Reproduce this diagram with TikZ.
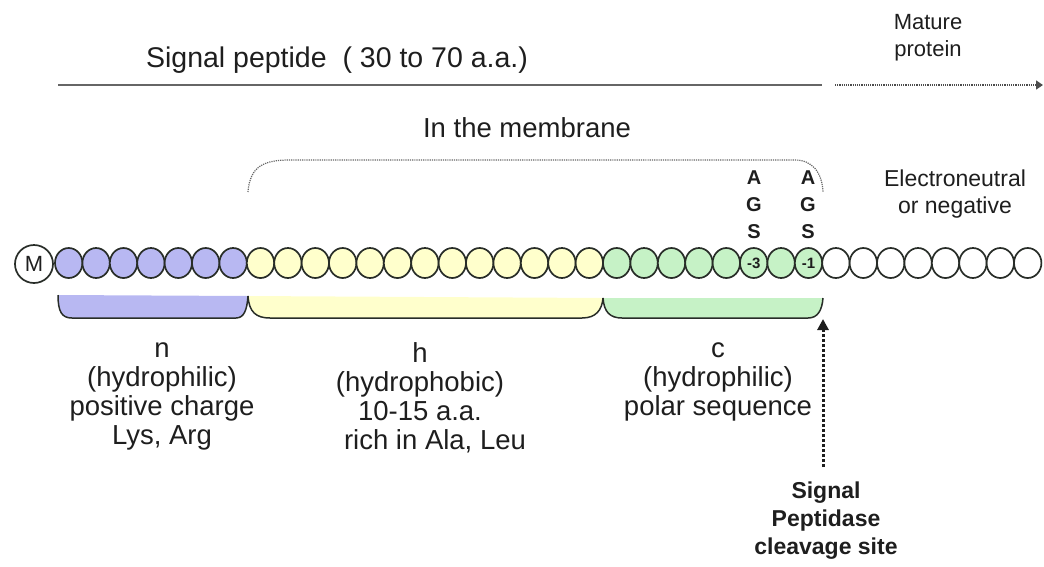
\documentclass[tikz,border=0pt]{standalone}
\usepackage{fontspec}
\setmainfont{Liberation Sans}
\usetikzlibrary{arrows.meta,shapes.geometric}
\definecolor{nblue}{RGB}{184,184,242}
\definecolor{hyel}{RGB}{255,255,204}
\definecolor{cgrn}{RGB}{198,242,198}
\definecolor{edge}{RGB}{40,45,40}
\definecolor{ink}{RGB}{30,30,30}
\begin{document}
\begin{tikzpicture}[x=1pt,y=-1pt,
  res/.style={ellipse, draw=edge, line width=1.7pt, inner sep=0pt,
    minimum width=27.4pt, minimum height=30pt},
  lbl/.style={font=\fontsize{27.5}{29}\selectfont, align=center, text=ink, inner sep=0pt},
  small/.style={font=\fontsize{22}{27}\selectfont, align=center, text=ink, inner sep=0pt},
  ags/.style={font=\bfseries\fontsize{20}{27}\selectfont, align=center, text=ink, inner sep=0pt},
  num/.style={font=\bfseries\fontsize{15}{15}\selectfont, text=ink, inner sep=0pt},
  brk/.style={draw=edge, line width=1.5pt},
  topline/.style={draw=black!60, line width=2.2pt},
  dotline/.style={draw=black!70, line width=1.6pt, dash pattern=on 1.2pt off 1pt},
  memb/.style={draw=black!60, line width=1.2pt, dash pattern=on 1.2pt off 1pt},
  cleave/.style={draw=ink, line width=3pt, dash pattern=on 3pt off 2pt},
]
\useasboundingbox (0,0) rectangle (1044,566);
% top
\coordinate (sp0) at (58,85);
\coordinate (sp1) at (822,85);
\coordinate (mp0) at (835,85);
\coordinate (mp1) at (1043,85);
\draw[topline] (sp0) -- (sp1);
\draw[dotline, -{Triangle[length=7pt,width=9pt]}] (mp0) -- (mp1);
\node[lbl, font=\fontsize{28.5}{30}\selectfont, anchor=base] (sig) at (337,67) {Signal peptide\ \ ( 30 to 70 a.a.)};
\node[small] (mat) at (928,38) {Mature\\protein};
% membrane
\node[lbl] (inm) at (527,128) {In the membrane};
\coordinate (m0) at (248,192);
\coordinate (m1) at (823,192);
\draw[memb] (m0) .. controls (250,166) and (264,160) .. (290,160) -- (795,160) .. controls (812,160) and (822,172) .. (m1);
% residues
\node[draw=edge, line width=1.7pt, circle, minimum size=38pt, inner sep=0pt,
  font=\fontsize{22}{22}\selectfont, text=ink] (M) at (34,264) {M};
\foreach \i in {0,...,35} {
  \pgfmathsetmacro\cx{55+(\i+0.5)*27.4}
  \ifnum\i<7 \def\fc{nblue}\else\ifnum\i<20 \def\fc{hyel}\else\ifnum\i<28 \def\fc{cgrn}\else\def\fc{white}\fi\fi\fi
  \node[res, fill=\fc] (r\i) at (\cx,263) {};
}
\node[num] (m3) at (r25) {-3};
\node[num] (m1l) at (r27) {-1};
\node[ags] (ags3) at (754,205) {A\\G\\S};
\node[ags] (ags1) at (808,205) {A\\G\\S};
\node[small, font=\fontsize{23}{27}\selectfont] (elec) at (955,194) {Electroneutral\\or negative};
% brackets
\fill[nblue] (58,295) .. controls (58,312) and (62,318) .. (72,318) -- (236,318) .. controls (244,318) and (247,310) .. (248,296) -- cycle;
\draw[brk] (58,295) .. controls (58,312) and (62,318) .. (72,318) -- (236,318) .. controls (244,318) and (247,310) .. (248,296);
\fill[hyel] (248,296) .. controls (249,312) and (256,318) .. (270,318) -- (582,318) .. controls (596,318) and (602,310) .. (603,298) -- cycle;
\draw[brk] (248,296) .. controls (249,312) and (256,318) .. (270,318) -- (582,318) .. controls (596,318) and (602,310) .. (603,298);
\fill[cgrn] (603,298) .. controls (604,312) and (610,318) .. (622,318) -- (808,318) .. controls (818,318) and (822,310) .. (823,298) -- cycle;
\draw[brk] (603,298) .. controls (604,312) and (610,318) .. (622,318) -- (808,318) .. controls (818,318) and (822,310) .. (823,298);
% labels
\node[lbl] (nlab) at (162,396) {n\\(hydrophilic)\\positive charge\\Lys, Arg};
\node[lbl] (hlab) at (420,398) {h\\(hydrophobic)\\10-15 a.a.\\\hspace*{30pt}rich in Ala, Leu};
\node[lbl] (clab) at (718,382) {c\\(hydrophilic)\\polar sequence};
% cleavage
\node[font=\bfseries\fontsize{23}{28}\selectfont, align=center, text=ink, inner sep=0pt] (cl) at (826,521) {Signal\\Peptidase\\cleavage site};
\coordinate (a0) at (823,467);
\coordinate (a1) at (823,319);
\draw[cleave, -{Triangle[length=11pt,width=11pt]}] (a0) -- (a1);
\end{tikzpicture}
\end{document}
